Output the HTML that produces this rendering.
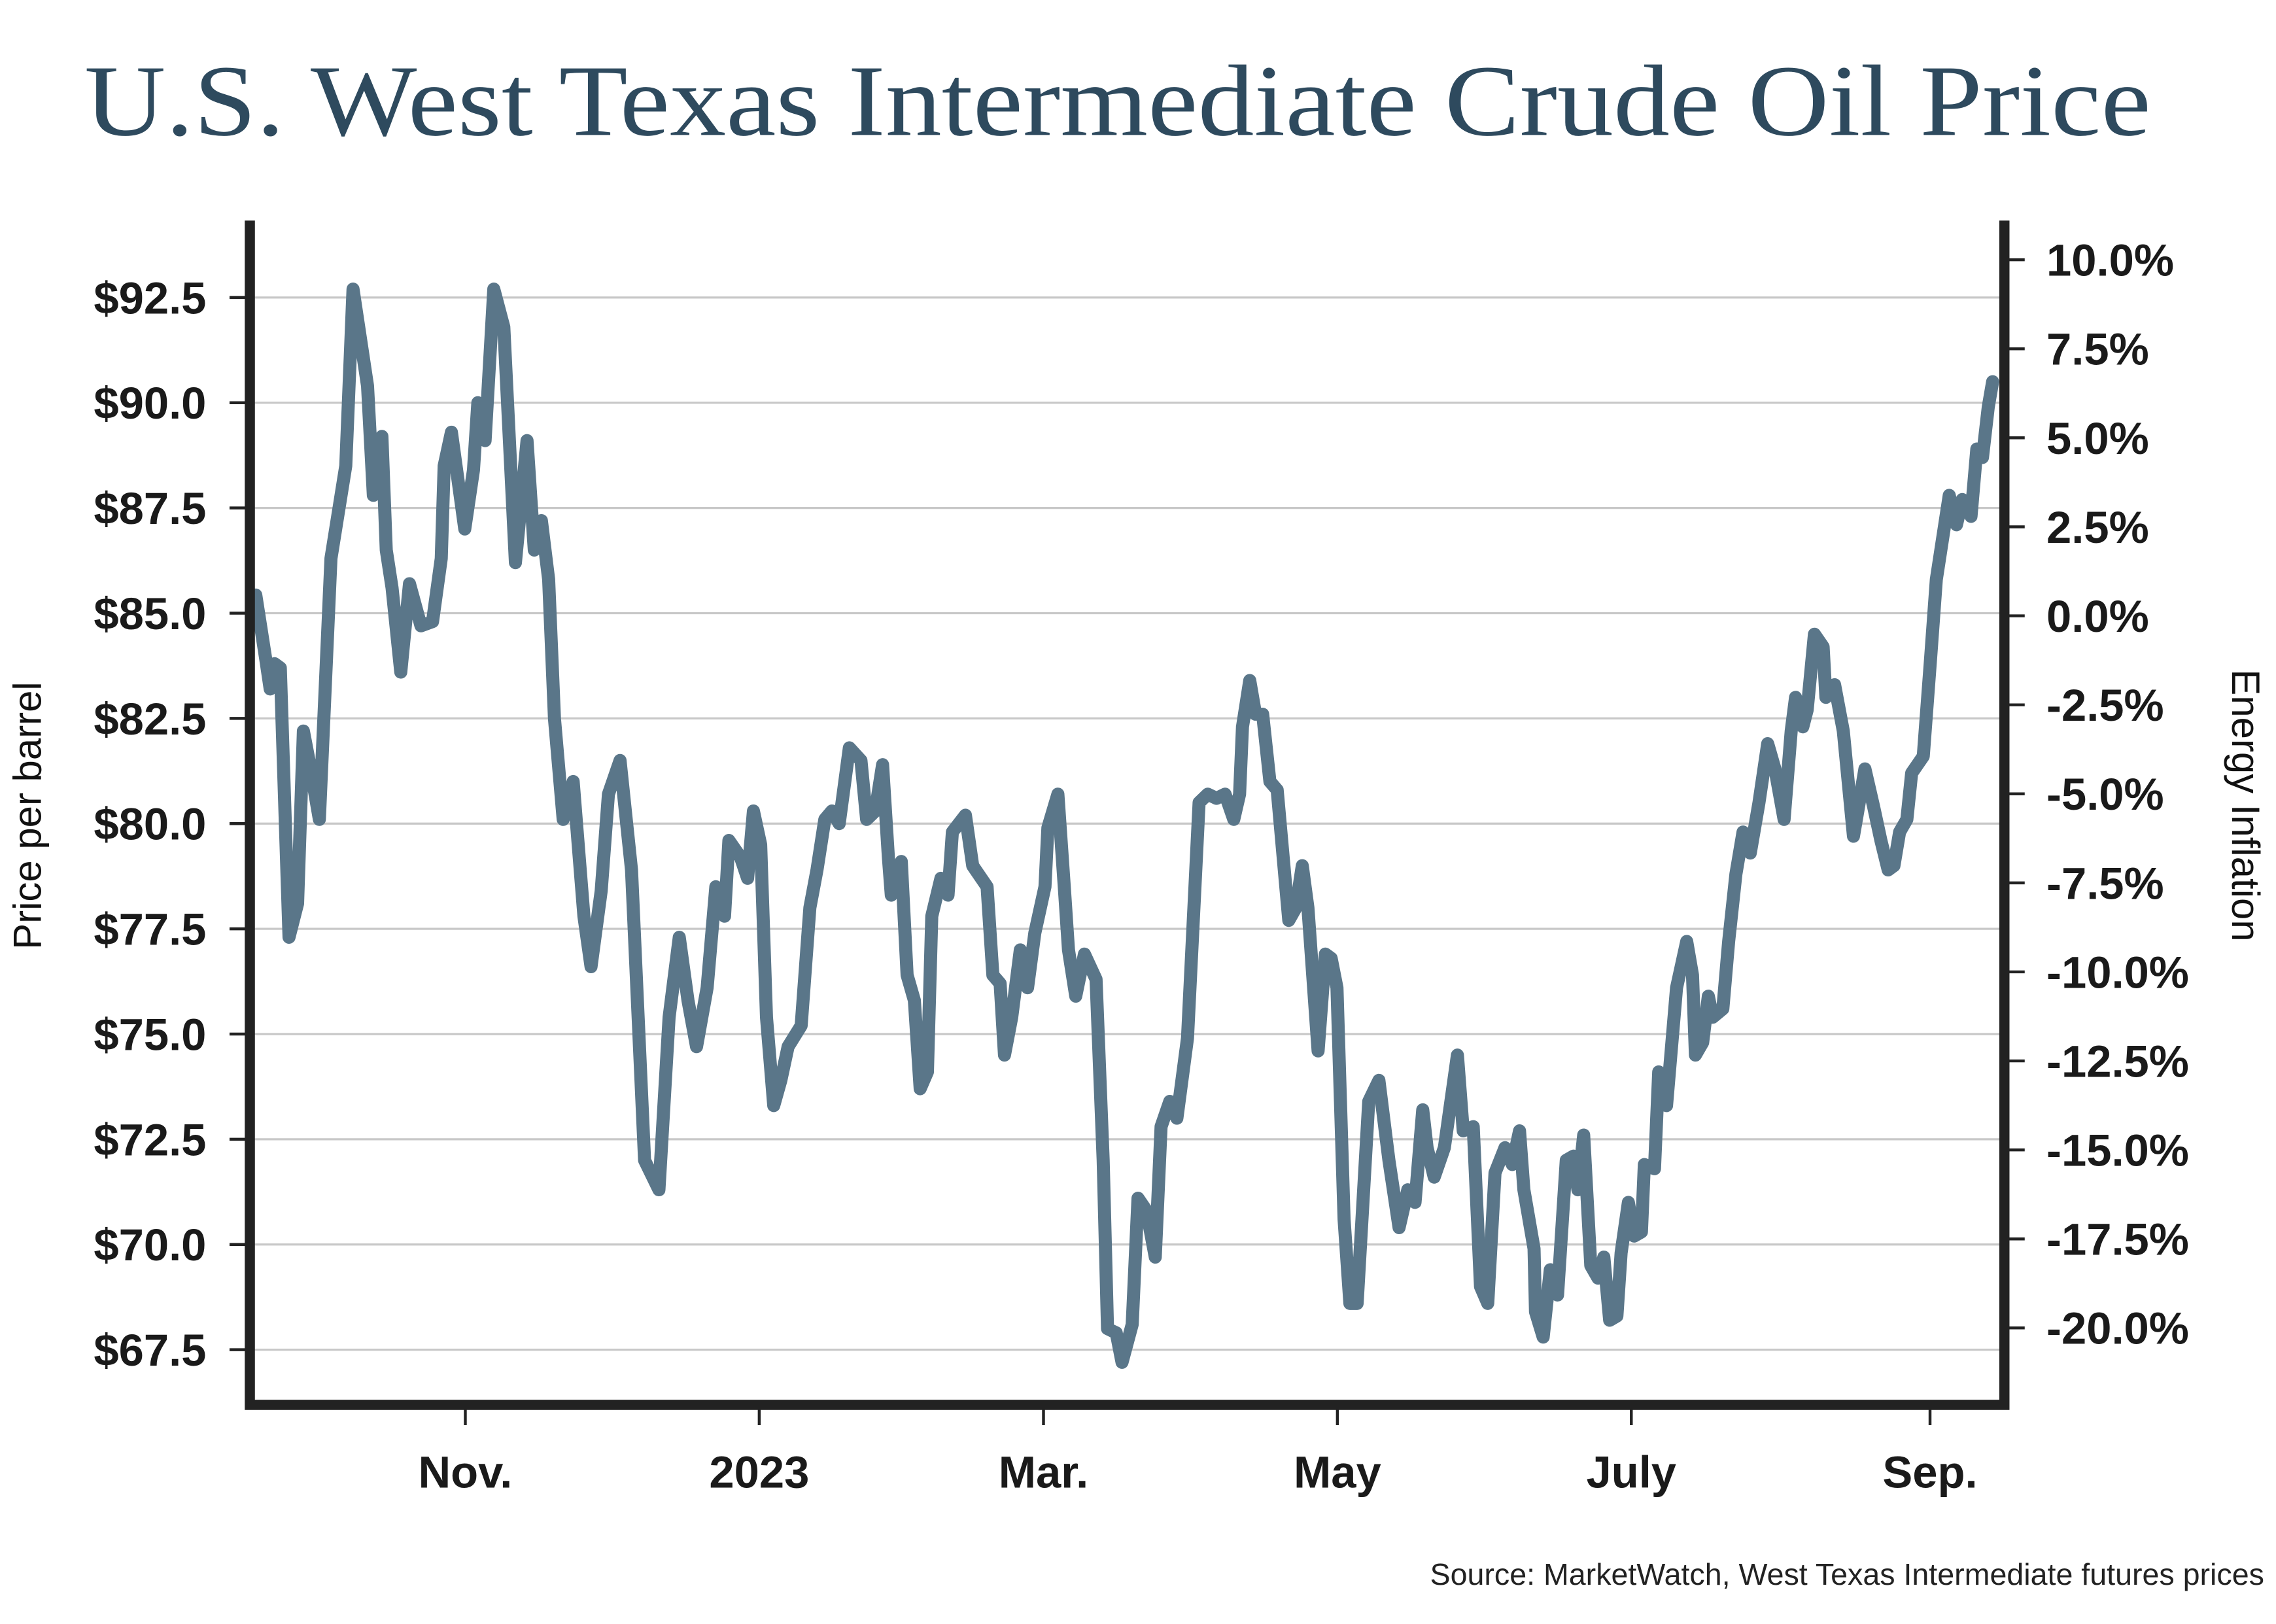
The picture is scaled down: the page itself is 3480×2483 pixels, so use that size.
<!DOCTYPE html>
<html><head><meta charset="utf-8"><style>
html,body{margin:0;padding:0;background:#fff}
svg{display:block}
text{font-family:"Liberation Sans",sans-serif}
</style></head><body>
<svg id="chart" width="3480" height="2483" viewBox="0 0 1568 1119" xmlns="http://www.w3.org/2000/svg">
<rect width="1568" height="1119" fill="#fff"/>
<text x="58" y="93" font-family="Liberation Serif, serif" style="font-family:'Liberation Serif',serif" font-size="70" fill="#2e4a5e" textLength="1424" lengthAdjust="spacingAndGlyphs">U.S. West Texas Intermediate Crude Oil Price</text>
<g id="grid"></g>
<g id="series"></g>
<g id="axes"></g>
<text transform="translate(28,562) rotate(-90)" text-anchor="middle" font-size="27" fill="#111">Price per barrel</text>
<text transform="translate(1538,555) rotate(90)" text-anchor="middle" font-size="27" fill="#111">Energy Inflation</text>
<text x="1560" y="1092" text-anchor="end" font-size="21" fill="#222">Source: MarketWatch, West Texas Intermediate futures prices</text>
</svg>
<script>
const priceTicks=[67.5,70,72.5,75,77.5,80,82.5,85,87.5,90,92.5];
const inflTicks=[-20,-17.5,-15,-12.5,-10,-7.5,-5,-2.5,0,2.5,5,7.5,10];
const monthLabels=["Nov.","2023","Mar.","May","July","Sep."];
const monthDays=[-61,0,59,120,181,243];
const days=[-104.5,-102.4,-101.5,-100.6,-99.4,-97.6,-95.8,-94.6,-93.1,-91.3,-88.9,-85.8,-84.3,-81.3,-80.1,-78.3,-77.4,-76.2,-74.4,-72.6,-70.2,-67.8,-66.0,-65.4,-63.9,-61.1,-59.3,-58.4,-56.9,-55.1,-53.0,-50.6,-48.2,-46.7,-45.2,-43.7,-42.5,-40.7,-38.6,-36.4,-34.9,-32.8,-31.3,-28.9,-26.5,-23.8,-20.8,-18.7,-16.6,-14.8,-13.0,-10.8,-9.0,-7.2,-6.3,-3.9,-2.4,-1.2,0.3,1.5,3.0,4.5,6.0,8.7,10.5,12.0,13.6,15.1,16.6,18.7,21.1,22.3,24.1,25.6,26.8,27.4,29.5,30.7,32.2,33.4,34.9,35.8,37.7,39.2,40.1,42.8,44.3,47.3,48.5,50.0,50.9,52.4,54.2,55.7,57.2,59.3,59.9,62.0,63.3,64.2,65.7,67.5,69.9,71.4,72.3,74.1,75.3,77.4,78.6,80.4,82.2,83.4,85.2,86.7,88.9,91.3,93.1,94.9,96.7,98.5,99.7,100.3,101.8,103.0,104.5,106.0,107.5,109.9,111.4,112.7,113.9,116.0,117.5,118.7,119.9,121.4,122.6,124.1,126.5,128.6,130.7,132.8,134.6,136.1,137.7,138.6,140.1,142.2,144.9,146.1,148.2,149.7,151.2,152.7,154.8,156.3,157.8,158.7,160.8,161.1,162.7,164.2,165.7,167.5,169.0,169.9,171.1,172.6,174.1,175.3,176.5,178.0,178.9,180.4,181.6,183.1,183.7,185.8,186.7,188.3,190.4,192.5,193.7,194.3,195.8,197.0,197.9,200.0,201.2,202.7,204.2,205.7,207.5,209.3,210.8,212.7,214.2,215.1,216.6,217.5,219.0,220.8,221.4,223.2,225.0,227.1,228.0,229.5,231.3,232.8,234.3,235.5,236.7,238.2,239.2,241.6,243.1,244.3,245.5,247.0,248.5,249.7,251.5,252.7,253.9,255.1,256.0];
const prices=[85.43,83.9,83.2,83.8,83.7,77.3,78.1,82.2,81.3,80.1,86.3,88.5,92.7,90.4,87.8,89.2,86.5,85.6,83.6,85.7,84.7,84.8,86.3,88.5,89.3,87.0,88.4,90.0,89.1,92.7,91.8,86.2,89.1,86.5,87.2,85.8,82.5,80.1,81.0,77.8,76.6,78.4,80.7,81.5,78.9,72.0,71.3,75.4,77.3,75.8,74.7,76.1,78.5,77.8,79.6,79.2,78.7,80.3,79.5,75.4,73.3,73.9,74.7,75.2,78.0,78.9,80.1,80.3,80.0,81.8,81.5,80.1,80.3,81.4,79.2,78.3,79.1,76.4,75.8,73.7,74.1,77.8,78.7,78.3,79.8,80.2,79.0,78.5,76.4,76.2,74.5,75.4,77.0,76.1,77.4,78.5,79.9,80.7,78.5,77.0,75.9,76.9,76.3,72.0,68.0,67.9,67.2,68.1,71.1,70.8,69.7,72.8,73.4,73.0,74.9,80.5,80.7,80.6,80.7,80.1,80.7,82.3,83.4,82.6,82.6,81.0,80.8,77.7,78.0,79.0,78.0,74.6,76.9,76.8,76.1,70.6,68.6,68.6,73.4,73.9,72.0,70.4,71.3,71.0,73.2,72.3,71.6,72.3,74.5,72.7,72.8,69.0,68.6,71.7,72.3,71.9,72.7,71.3,69.9,68.4,67.8,69.4,68.8,72.0,72.1,71.3,72.6,69.5,69.2,69.7,68.2,68.3,69.8,71.0,70.2,70.3,71.9,71.8,74.1,73.3,76.1,77.2,76.4,74.5,74.8,75.9,75.4,75.6,77.2,78.8,79.8,79.3,80.5,81.9,81.3,80.1,82.2,83.0,82.3,82.7,84.5,84.2,83.0,83.3,82.2,79.7,80.3,81.3,80.4,79.6,78.9,79.0,79.8,80.1,81.2,81.6,83.9,85.8,86.7,87.8,87.1,87.7,87.3,88.9,88.7,89.9,90.5];

const L=172,R=1381,T=152,B=968;
const yP=v=>205+(92.5-v)*29;
const yI=v=>179+(10-v)*(736/30);
const xD=d=>523+d*3.32;
const NS="http://www.w3.org/2000/svg";
function mk(tag,attrs,parent,txt){const e=document.createElementNS(NS,tag);for(const k in attrs)e.setAttribute(k,attrs[k]);if(txt!==undefined)e.textContent=txt;parent.appendChild(e);return e;}
const grid=document.getElementById('grid'),axes=document.getElementById('axes'),series=document.getElementById('series');
priceTicks.forEach(v=>{
  const g=mk('line',{x1:L,x2:R,y1:yP(v),y2:yP(v),stroke:'#c8c8c8','stroke-width':1.5},grid);
  
  
  const t=mk('line',{x1:L-14,x2:L,y1:yP(v),y2:yP(v),stroke:'#222','stroke-width':2},axes);
  
  
  const lb=mk('text',{x:142,y:yP(v)+11,'text-anchor':'end','font-size':31,'font-weight':'bold',fill:'#1a1a1a'},axes,'$'+v.toFixed(1));
  
  
});
inflTicks.forEach(v=>{
  const t=mk('line',{x1:R,x2:R+14,y1:yI(v),y2:yI(v),stroke:'#222','stroke-width':2},axes);
  
  
  const lb=mk('text',{x:1410,y:yI(v)+11,'font-size':31,'font-weight':'bold',fill:'#1a1a1a'},axes,v.toFixed(1)+'%');
  
  
});
monthDays.forEach((d,i)=>{
  const t=mk('line',{x1:xD(d),x2:xD(d),y1:B,y2:B+14,stroke:'#222','stroke-width':2},axes);
  
  
  const lb=mk('text',{x:xD(d),y:1025,'text-anchor':'middle','font-size':31,'font-weight':'bold',fill:'#1a1a1a'},axes,monthLabels[i]);
  
  
});
const frame=mk('path',{d:`M${L},${T} V${B} H${R} V${T}`,fill:'none',stroke:'#222','stroke-width':7},axes);


const pts=days.map((d,i)=>xD(d).toFixed(1)+','+yP(prices[i]).toFixed(1)).join(' ');
const line=mk('polyline',{points:pts,fill:'none',stroke:'#5a7689','stroke-width':9,'stroke-linejoin':'round','stroke-linecap':'round'},series);


</script>
</body></html>
